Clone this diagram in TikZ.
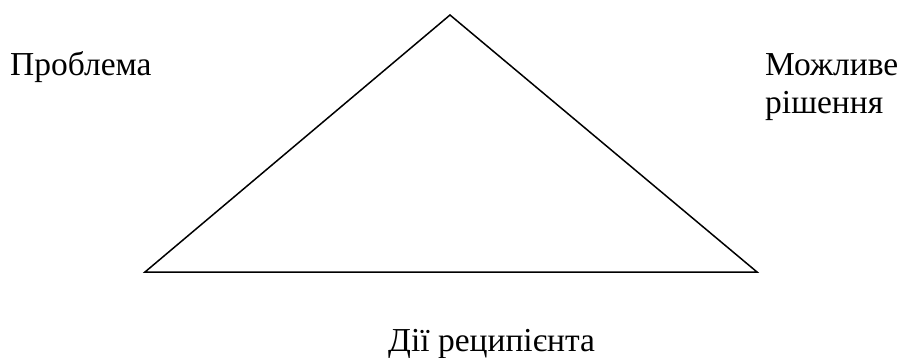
\documentclass[tikz,border=0pt]{standalone}
\usepackage{fontspec}
\setmainfont{Liberation Serif}
\usetikzlibrary{positioning}

\begin{document}
\begin{tikzpicture}[
  x=1pt, y=-1pt,
  lbl/.style={inner sep=0pt, font=\fontsize{33.5}{38}\selectfont, align=left},
  edge/.style={line width=1.5pt, line join=miter}
]
\useasboundingbox (0,0) rectangle (899,358);
\coordinate (top) at (450,15);
\coordinate (left) at (145,272);
\coordinate (right) at (757,272);
\draw[edge] (top) -- (left) -- (right) -- cycle;
\node[lbl, anchor=base west] (problem) at (10,76) {Проблема};
\node[lbl, anchor=base west] (solution) at (765,114) {Можливе\\рішення};
\node[lbl, anchor=base west] (actions) at (388,351) {Дії реципієнта};
\end{tikzpicture}
\end{document}
